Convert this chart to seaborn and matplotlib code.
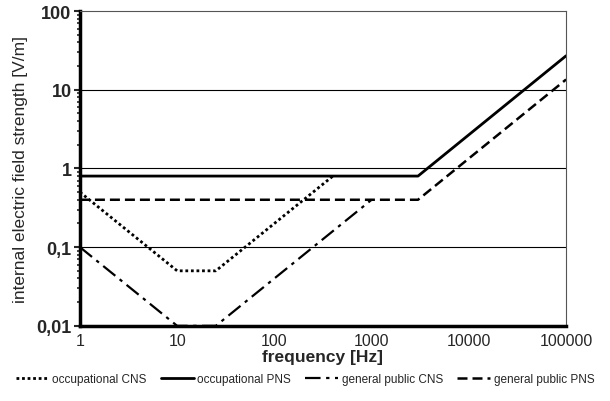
import matplotlib
matplotlib.use("Agg")
import matplotlib.pyplot as plt
import seaborn as sns
import pandas as pd
import numpy as np
from matplotlib.ticker import LogLocator, FixedLocator, NullFormatter

sns.set_style("white")
plt.rcParams['font.family'] = ['Liberation Sans', 'DejaVu Sans']

# data
occ_cns_f = [1, 10, 25, 400]
occ_cns_e = [0.5, 0.05, 0.05, 0.8]
occ_pns_f = [1, 3000, 100000]
occ_pns_e = [0.8, 0.8, 27]
gp_cns_f = [1, 10, 25, 1000]
gp_cns_e = [0.1, 0.01, 0.01, 0.4]
gp_pns_f = [1, 3000, 100000]
gp_pns_e = [0.4, 0.4, 13.5]

x_ticks = [1, 10, 100, 1000, 10000, 100000]
x_labels = ["1", "10", "100", "1000", "10000", "100000"]
y_ticks = [0.01, 0.1, 1, 10, 100]
y_labels = ["0,01", "0,1", "1", "10", "100"]

fig = plt.figure(figsize=(6.1, 4.02), dpi=100)
ax = fig.add_axes([0.131, 0.187, 0.797, 0.783])

for y in y_ticks[1:-1]:
    ax.axhline(y, color='black', lw=0.8, zorder=1)

series = [
    ("occupational CNS", occ_cns_f, occ_cns_e, dict(ls=(0, (1, 1)), lw=2.0)),
    ("occupational PNS", occ_pns_f, occ_pns_e, dict(ls='-', lw=2.0)),
    ("general public CNS", gp_cns_f, gp_cns_e, dict(ls=(0, (7, 2.5, 1.5, 2.5)), lw=1.6)),
    ("general public PNS", gp_pns_f, gp_pns_e, dict(ls=(0, (4, 2)), lw=1.8)),
]
for name, f, e, st in series:
    df = pd.DataFrame({"f": f, "e": e})
    sns.lineplot(data=df, x="f", y="e", ax=ax, color='black', label=name,
                 linestyle=st['ls'], linewidth=st['lw'], zorder=3)

ax.set_xscale('log')
ax.set_yscale('log')
ax.set_xlim(1, 100000)
ax.set_ylim(0.01, 100)
ax.xaxis.set_major_locator(FixedLocator(x_ticks))
ax.set_xticklabels(x_labels, fontsize=11.5)
ax.xaxis.set_minor_formatter(NullFormatter())
ax.xaxis.set_minor_locator(FixedLocator([]))
ax.yaxis.set_major_locator(FixedLocator(y_ticks))
ax.set_yticklabels(y_labels, fontsize=13, fontweight='heavy')
ax.yaxis.set_minor_locator(LogLocator(base=10, subs=np.arange(2, 10)))
ax.yaxis.set_minor_formatter(NullFormatter())
ax.tick_params(axis='y', which='major', length=4, width=1.5, direction='out', left=True, pad=2)
ax.tick_params(axis='y', which='minor', length=2, width=1.2, direction='out', left=True)
ax.tick_params(axis='x', which='major', length=0, pad=5)

for s in ['left', 'bottom']:
    ax.spines[s].set_linewidth(2.5)
    ax.spines[s].set_color('black')
for s in ['top', 'right']:
    ax.spines[s].set_linewidth(0.8)
    ax.spines[s].set_color('#555555')

ax.set_xlabel("frequency [Hz]", fontsize=12.5, fontweight='bold', labelpad=1)
ax.set_ylabel("internal electric field strength [V/m]", fontsize=12.5, labelpad=6)

h, l = ax.get_legend_handles_labels()
ax.get_legend().remove()
fig.legend(h, l, loc='center', bbox_to_anchor=(0.5, 0.055), ncol=4, frameon=False,
           fontsize=8.5, handlelength=2.8, handletextpad=0.3, columnspacing=1.2,
           borderaxespad=0, borderpad=0)

fig.savefig("out.png", dpi=100)
